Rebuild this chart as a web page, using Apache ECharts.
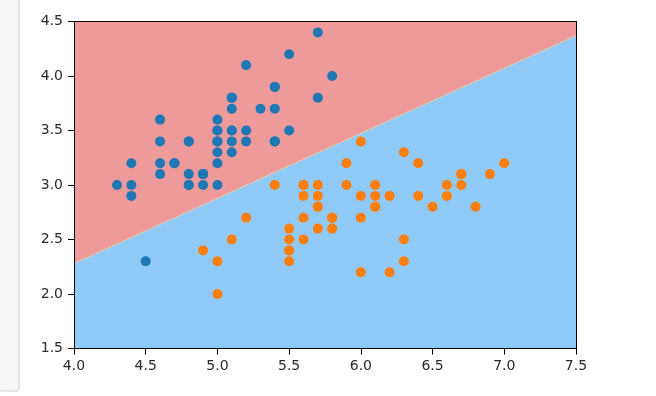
<!DOCTYPE html>
<html><head><meta charset="utf-8">
<script src="https://cdn.jsdelivr.net/npm/echarts@6/dist/echarts.min.js"></script>
<style>html,body{margin:0;padding:0;background:#fff}#c{width:656px;height:396px}</style>
</head><body><div id="c"></div>
<script>
const xTicks = [4.0, 4.5, 5.0, 5.5, 6.0, 6.5, 7.0, 7.5];
const yTicks = [1.5, 2.0, 2.5, 3.0, 3.5, 4.0, 4.5];
const boundary = [[4.0, 2.28], [7.5, 4.37]];
const setosaX = [5.1,4.9,4.7,4.6,5.0,5.4,4.6,5.0,4.4,4.9,5.4,4.8,4.8,4.3,5.8,5.7,5.4,5.1,5.7,5.1,5.4,5.1,4.6,5.1,4.8,5.0,5.0,5.2,5.2,4.7,4.8,5.4,5.2,5.5,4.9,5.0,5.5,4.9,4.4,5.1,5.0,4.5,4.4,5.0,5.1,4.8,5.1,4.6,5.3,5.0];
const setosaY = [3.5,3.0,3.2,3.1,3.6,3.9,3.4,3.4,2.9,3.1,3.7,3.4,3.0,3.0,4.0,4.4,3.9,3.5,3.8,3.8,3.4,3.7,3.6,3.3,3.4,3.0,3.4,3.5,3.4,3.2,3.1,3.4,4.1,4.2,3.1,3.2,3.5,3.1,3.0,3.4,3.5,2.3,3.2,3.5,3.8,3.0,3.8,3.2,3.7,3.3];
const versiX = [7.0,6.4,6.9,5.5,6.5,5.7,6.3,4.9,6.6,5.2,5.0,5.9,6.0,6.1,5.6,6.7,5.6,5.8,6.2,5.6,5.9,6.1,6.3,6.1,6.4,6.6,6.8,6.7,6.0,5.7,5.5,5.5,5.8,6.0,5.4,6.0,6.7,6.3,5.6,5.5,5.5,6.1,5.8,5.0,5.6,5.7,5.7,6.2,5.1,5.7];
const versiY = [3.2,3.2,3.1,2.3,2.8,2.8,3.3,2.4,2.9,2.7,2.0,3.0,2.2,2.9,2.9,3.1,3.0,2.7,2.2,2.5,3.2,2.8,2.5,2.8,2.9,3.0,2.8,3.0,2.9,2.6,2.4,2.4,2.7,2.7,3.0,3.4,3.1,2.3,3.0,2.5,2.6,3.0,2.6,2.3,2.7,3.0,2.9,2.9,2.5,2.8];

const chart = echarts.init(document.getElementById('c'), null, {renderer: 'canvas'});
const lab = {color: '#2a2a2a', fontFamily: 'DejaVu Sans', fontSize: 14, formatter: v => v.toFixed(1)};
const spine = {show: true, lineStyle: {color: '#000', width: 1}};
function mkX(pos, showLab) {
  return {type: 'value', min: 4.0, max: 7.5, interval: 0.5, position: pos, z: 10,
    axisLine: Object.assign({onZero: false}, spine),
    axisTick: {show: showLab, inside: false, length: 6, lineStyle: {color: '#000'}},
    axisLabel: Object.assign({show: showLab, margin: 11}, lab),
    splitLine: {show: false}};
}
function mkY(pos, showLab) {
  return {type: 'value', min: 1.5, max: 4.5, interval: 0.5, position: pos, z: 10,
    axisLine: Object.assign({onZero: false}, spine),
    axisTick: {show: showLab, inside: false, length: 6, lineStyle: {color: '#000'}},
    axisLabel: Object.assign({show: showLab, margin: 11}, lab),
    splitLine: {show: false}};
}
const pts = (xs, ys) => xs.map((x, i) => [x, ys[i]]);
chart.setOption({
  animation: false,
  grid: {left: 74, right: 80, top: 21.5, bottom: 47.5, show: true, backgroundColor: '#EF9A9A', borderWidth: 0, outerBoundsMode: 'none', containLabel: false},
  xAxis: [mkX('bottom', true), mkX('top', false)],
  yAxis: [mkY('left', true), mkY('right', false)],
  graphic: [{type: 'rect', shape: {x: -1, y: -3, width: 20, height: 394, r: 3}, style: {fill: '#f7f7f7', stroke: '#cfcfcf', lineWidth: 1}}],
  series: [
    {type: 'line', data: boundary, symbol: 'none', z: 1,
      lineStyle: {color: '#FFF59D', width: 1, type: 'dotted'},
      areaStyle: {color: '#90CAF9', opacity: 1, origin: 'start'}},
    {type: 'scatter', data: pts(setosaX, setosaY), symbolSize: 10, z: 5, itemStyle: {color: '#1f77b4', opacity: 1}},
    {type: 'scatter', data: pts(versiX, versiY), symbolSize: 10, z: 5, itemStyle: {color: '#ff7f0e', opacity: 1}}
  ]
});
</script></body></html>
